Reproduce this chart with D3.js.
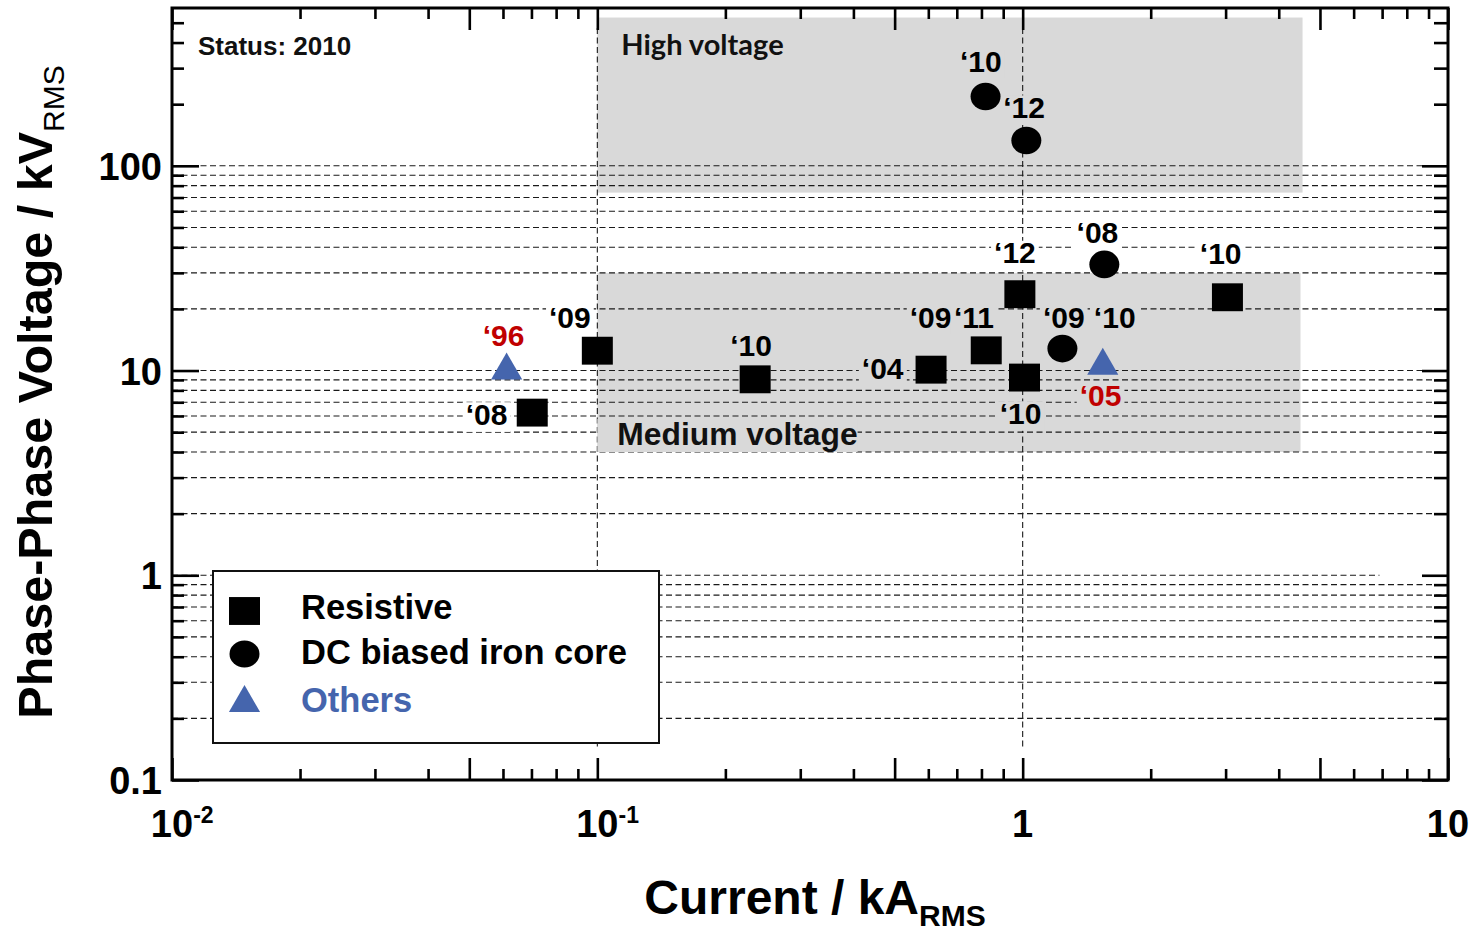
<!DOCTYPE html>
<html>
<head>
<meta charset="utf-8">
<script src="https://cdn.jsdelivr.net/npm/d3@7"></script>
<style>
  body { margin: 0; background: #fff; }
  text { font-family: 'Liberation Sans', Arial, sans-serif; font-weight: bold; }
</style>
</head>
<body>
<div id="chart"></div>
<script>
// current in kA, voltage in kV (phase-phase)
const resistive = [
  { i: 0.0703, v: 6.23 }, { i: 0.1, v: 12.5 }, { i: 0.235, v: 9.06 },
  { i: 0.609, v: 10.1 }, { i: 0.821, v: 12.55 }, { i: 0.985, v: 23.6 },
  { i: 1.01, v: 9.24 }, { i: 3.03, v: 22.8 }
];
const ironCore = [
  { i: 0.818, v: 218 }, { i: 1.02, v: 133 }, { i: 1.556, v: 33 }, { i: 1.24, v: 12.8 }
];
const others = [
  { i: 0.0612, v: 10.0 }, { i: 1.543, v: 10.55 }
];
const yearLabels = [
  { text: '‘96', i: 0.0602, v: 14.9, series: 'others' },
  { text: '‘08', i: 0.0549, v: 6.13, series: 'resistive' },
  { text: '‘09', i: 0.0862, v: 18.15, series: 'resistive' },
  { text: '‘10', i: 0.2298, v: 13.32, series: 'resistive' },
  { text: '‘04', i: 0.4687, v: 10.23, series: 'resistive' },
  { text: '‘09', i: 0.6076, v: 18.29, series: 'resistive' },
  { text: '‘11', i: 0.768, v: 18.29, series: 'resistive' },
  { text: '‘12', i: 0.959, v: 37.7, series: 'resistive' },
  { text: '‘10', i: 0.989, v: 6.2, series: 'resistive' },
  { text: '‘09', i: 1.249, v: 18.2, series: 'core' },
  { text: '‘10', i: 1.646, v: 18.2, series: 'core' },
  { text: '‘05', i: 1.525, v: 7.55, series: 'others' },
  { text: '‘08', i: 1.499, v: 47.6, series: 'core' },
  { text: '‘10', i: 2.921, v: 37.5, series: 'resistive' },
  { text: '‘10', i: 0.797, v: 325, series: 'core' },
  { text: '‘12', i: 1.008, v: 193.3, series: 'core' }
];
const regions = [
  { name: 'High voltage', i0: 0.1, i1: 4.55, v0: 74, v1: 530 },
  { name: 'Medium voltage', i0: 0.1, i1: 4.5, v0: 4, v1: 30 }
];
const xTickLabels = [
  { v: 0.01, base: '10', sup: '-2' }, { v: 0.1, base: '10', sup: '-1' },
  { v: 1, base: '1', sup: '' }, { v: 10, base: '10', sup: '' }
];
const yTickLabels = [
  { v: 0.1, text: '0.1' }, { v: 1, text: '1' }, { v: 10, text: '10' }, { v: 100, text: '100' }
];
const legendItems = [
  { name: 'Resistive', series: 'resistive' },
  { name: 'DC biased iron core', series: 'core' },
  { name: 'Others', series: 'others' }
];

(function () {
  'use strict';

  const W = 1474, H = 931;
  const GRAY = '#d9d9d9', BLUE = '#4565ad', RED = '#c00000';
  const pL = 172, pR = 1448, pT = 8, pB = 780;

  const x = d3.scaleLog().domain([0.01, 10]).range([pL, pR]);
  const y = d3.scaleLog().domain([0.1, 590]).range([pB, pT]);

  const svg = d3.select('#chart').append('svg')
    .attr('width', W).attr('height', H);
  svg.append('rect').attr('width', W).attr('height', H).attr('fill', '#fff');

  // shaded voltage regions ======================================
  svg.append('g').selectAll('rect').data(regions).enter().append('rect')
    .attr('x', d => x(d.i0))
    .attr('y', d => y(d.v1))
    .attr('width', d => x(d.i1) - x(d.i0))
    .attr('height', d => y(d.v0) - y(d.v1))
    .attr('fill', GRAY);

  // dashed grid =================================================
  const grid = svg.append('g')
    .attr('stroke', '#1a1a1a').attr('stroke-width', 1.1).attr('stroke-dasharray', '6,3.5');
  grid.selectAll('line.h').data(y.ticks().filter(v => v >= 0.199 && v <= 100.1)).enter().append('line')
    .attr('class', 'h')
    .attr('x1', pL).attr('x2', d => Math.abs(d - 1) < 1e-9 ? x(6.9) : pR)
    .attr('y1', d => y(d)).attr('y2', d => y(d));
  grid.selectAll('line.v').data([0.1, 1]).enter().append('line')
    .attr('class', 'v')
    .attr('x1', d => x(d)).attr('x2', d => x(d))
    .attr('y1', pT + 20).attr('y2', y(0.14));

  // region labels
  const inRegion = d => regions.some(r => d.i >= r.i0 && d.i <= r.i1 && d.v >= r.v0 && d.v <= r.v1);

  const hv = regions[0], mv = regions[1];
  svg.append('text')
    .attr('x', x(hv.i0) + 24).attr('y', y(hv.v1) + 37)
    .style('font-family', 'Lato, "Open Sans", sans-serif')
    .style('font-size', '29px').attr('fill', '#111')
    .text(hv.name);

  const mvG = svg.append('g');
  const mvText = mvG.append('text')
    .attr('x', x(mv.i0) + 20).attr('y', y(mv.v0) - 7)
    .style('font-size', '31.8px').attr('fill', '#111')
    .text(mv.name);
  const mvBox = mvText.node().getBBox();
  mvG.insert('rect', 'text')
    .attr('x', x(mv.i0)).attr('y', y(mv.v0) - 7 - 31 * 0.72 - 4)
    .attr('width', mvBox.x + mvBox.width - x(mv.i0))
    .attr('height', 31 * 0.72 + 11)
    .attr('fill', GRAY);

  // year labels with background that interrupts the grid ========
  const LFS = 30;
  const lab = svg.append('g');
  yearLabels.forEach(d => {
    const g = lab.append('g');
    const cy = y(d.v);
    const t = g.append('text')
      .attr('x', x(d.i)).attr('y', cy + LFS * 0.358)
      .attr('text-anchor', 'middle')
      .style('font-size', LFS + 'px')
      .attr('fill', d.series === 'others' ? RED : '#000')
      .text(d.text);
    const b = t.node().getBBox();
    g.insert('rect', 'text')
      .attr('x', b.x - 3).attr('y', cy - LFS * 0.36 - 1)
      .attr('width', b.width + 6).attr('height', LFS * 0.72 + 8)
      .attr('fill', inRegion(d) ? GRAY : '#fff');
  });

  // markers =====================================================
  const sq = d3.symbol().type(d3.symbolSquare).size(31 * 31);
  const ci = d3.symbol().type(d3.symbolCircle).size(Math.PI * 15 * 15);
  const tr = d3.symbol().type(d3.symbolTriangle).size(420);

  svg.append('g').selectAll('path').data(resistive).enter().append('path')
    .attr('d', sq)
    .attr('transform', d => `translate(${x(d.i)},${y(d.v)}) scale(1,0.9)`)
    .attr('fill', '#000');
  svg.append('g').selectAll('path').data(ironCore).enter().append('path')
    .attr('d', ci)
    .attr('transform', d => `translate(${x(d.i)},${y(d.v)}) scale(1,0.92)`)
    .attr('fill', '#000');
  svg.append('g').selectAll('path').data(others).enter().append('path')
    .attr('d', tr)
    .attr('transform', d => `translate(${x(d.i)},${y(d.v)})`)
    .attr('fill', BLUE);

  // axes: ticks on all four sides, pointing inward ===============
  const mant = v => Math.round(v / Math.pow(10, Math.floor(Math.log10(v) + 1e-9)));
  const xLong = v => mant(v) === 1 || mant(v) === 5;
  const yLong = v => mant(v) === 1;

  function styleAxis(g, lenFn, attr, sign) {
    g.select('.domain').remove();
    g.selectAll('.tick text').remove();
    g.selectAll('.tick line')
      .attr('stroke', '#000').attr('stroke-width', 2.6)
      .attr(attr, d => sign * lenFn(d));
  }

  svg.append('g').attr('transform', `translate(0,${pB})`)
    .call(d3.axisTop(x).tickFormat(''))
    .call(g => styleAxis(g, v => xLong(v) ? 22 : 11, 'y2', -1));
  svg.append('g').attr('transform', `translate(0,${pT})`)
    .call(d3.axisBottom(x).tickFormat(''))
    .call(g => styleAxis(g, v => xLong(v) ? 22 : 11, 'y2', 1));
  svg.append('g').attr('transform', `translate(${pL},0)`)
    .call(d3.axisRight(y).tickFormat(''))
    .call(g => styleAxis(g, v => yLong(v) ? 27 : 12, 'x2', 1));
  svg.append('g').attr('transform', `translate(${pR},0)`)
    .call(d3.axisLeft(y).tickFormat(''))
    .call(g => styleAxis(g, v => yLong(v) ? 26 : 14, 'x2', -1));

  svg.append('rect')
    .attr('x', pL).attr('y', pT)
    .attr('width', pR - pL).attr('height', pB - pT)
    .attr('fill', 'none').attr('stroke', '#000').attr('stroke-width', 3);

  // status note
  svg.append('text')
    .attr('x', 198).attr('y', 55)
    .style('font-size', '26px').attr('fill', '#111')
    .text('Status: 2010');

  // legend ======================================================
  const leg = svg.append('g');
  leg.append('rect')
    .attr('x', 213).attr('y', 571).attr('width', 446).attr('height', 172)
    .attr('fill', '#fff').attr('stroke', '#111').attr('stroke-width', 2);
  const legSym = { resistive: sq, core: ci, others: tr };
  const symY = [611, 654, 703], textY = [619, 664, 712];
  legendItems.forEach((d, k) => {
    leg.append('path')
      .attr('d', legSym[d.series])
      .attr('transform', `translate(244.5,${symY[k]})` + (d.series === 'others' ? '' : ' scale(1,0.9)'))
      .attr('fill', d.series === 'others' ? BLUE : '#000');
    leg.append('text')
      .attr('x', 301).attr('y', textY[k])
      .style('font-size', '34.5px')
      .attr('fill', d.series === 'others' ? BLUE : '#000')
      .text(d.name);
  });

  // tick labels =================================================
  const TFS = 38;
  xTickLabels.forEach(d => {
    const t = svg.append('text')
      .attr('y', 837)
      .style('font-size', TFS + 'px').attr('fill', '#000');
    t.append('tspan').text(d.base);
    const w = t.node().getComputedTextLength();
    t.attr('x', x(d.v) - w / 2);
    if (d.sup) {
      t.append('tspan').attr('dy', -14).style('font-size', '23px').text(d.sup);
    }
  });
  svg.append('g').selectAll('text').data(yTickLabels).enter().append('text')
    .attr('x', 162).attr('y', d => y(d.v) + 1)
    .attr('text-anchor', 'end').attr('dominant-baseline', 'central')
    .style('font-size', TFS + 'px').attr('fill', '#000')
    .text(d => d.text);

  // axis titles =================================================
  const xt = svg.append('text')
    .attr('x', 815).attr('y', 914).attr('text-anchor', 'middle')
    .style('font-size', '48px').attr('fill', '#000');
  xt.append('tspan').text('Current / kA');
  xt.append('tspan').attr('dy', 12).style('font-size', '30px').text('RMS');

  const yt = svg.append('text')
    .attr('transform', 'translate(52,392) rotate(-90)')
    .attr('text-anchor', 'middle')
    .style('font-size', '48.5px').attr('fill', '#000');
  yt.append('tspan').text('Phase-Phase Voltage / kV');
  yt.append('tspan').attr('dy', 12).style('font-size', '30px').style('font-weight', 'normal').text('RMS');
}());
</script>
</body>
</html>
